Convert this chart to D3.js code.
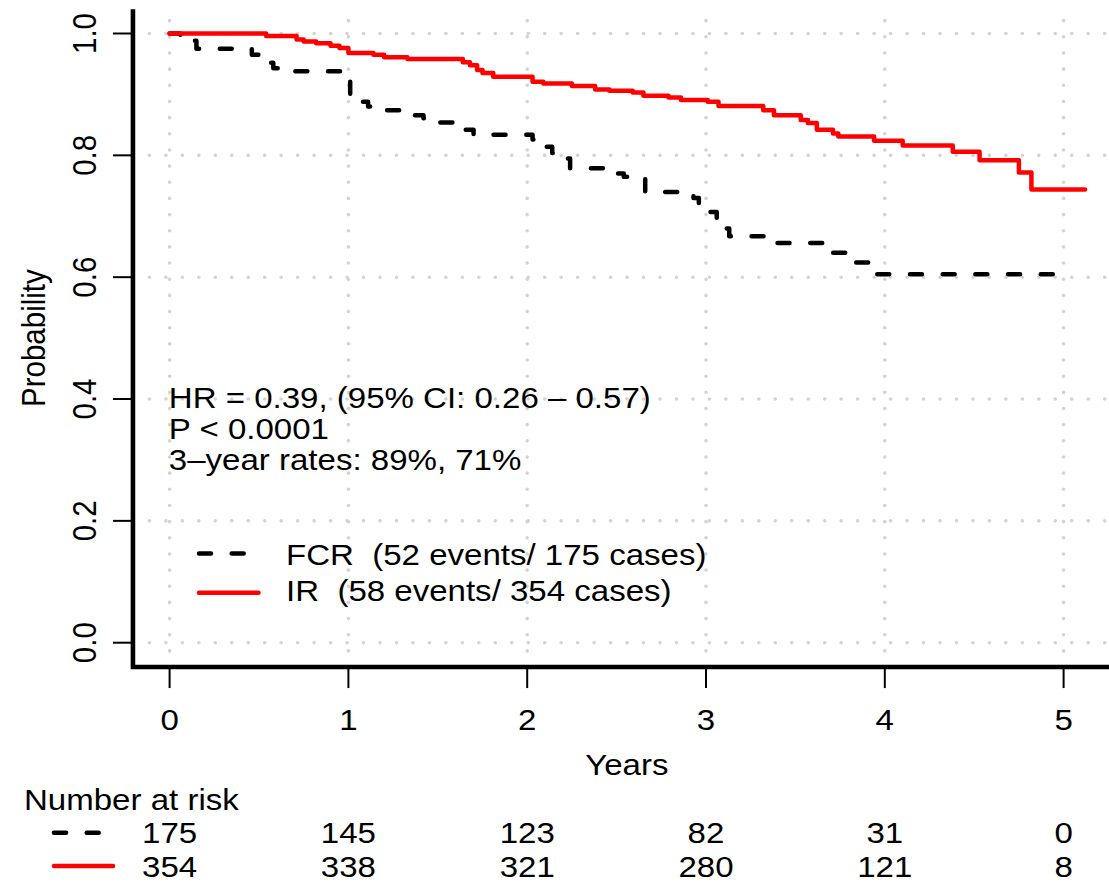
<!DOCTYPE html>
<html>
<head>
<meta charset="utf-8">
<script src="https://cdn.jsdelivr.net/npm/d3@7"></script>
<style>
  html, body { margin: 0; padding: 0; background: #fff; }
  svg { display: block; }
  text { font-family: "Liberation Sans", Arial, Helvetica, sans-serif; fill: #000; white-space: pre; }
</style>
</head>
<body>
<svg id="chart" width="1109" height="885"></svg>
<script>
// ---------------- data ----------------
const seriesNames = ["FCR", "IR"];
const legendLabels = ["FCR  (52 events/ 175 cases)", "IR  (58 events/ 354 cases)"];
const statsLines = ["HR = 0.39, (95% CI: 0.26 \u2013 0.57)", "P < 0.0001", "3\u2013year rates: 89%, 71%"];

const fcrTime = [0, 0.06, 0.10, 0.15, 0.46, 0.55, 0.58, 0.62, 1.01, 1.11, 1.17, 1.32, 1.42, 1.50, 1.60, 1.70,
                 2.03, 2.10, 2.14, 2.20, 2.24, 2.46, 2.54, 2.66, 2.93, 2.96, 3.02, 3.06, 3.10, 3.13, 3.34,
                 3.69, 3.81, 3.94, 4.97];
const fcrSurv = [1.000, 0.994, 0.988, 0.975, 0.965, 0.952, 0.943, 0.938, 0.888, 0.880, 0.874, 0.866, 0.861, 0.854, 0.842, 0.834,
                 0.826, 0.814, 0.804, 0.795, 0.779, 0.770, 0.765, 0.740, 0.730, 0.719, 0.707, 0.694, 0.680, 0.667, 0.656,
                 0.640, 0.624, 0.605, 0.605];

const irTime = [0, 0.54, 0.71, 0.75, 0.82, 0.90, 0.95, 1.00, 1.14, 1.20, 1.33, 1.64, 1.68, 1.72, 1.75, 1.81,
                2.03, 2.09, 2.25, 2.38, 2.46, 2.59, 2.65, 2.79, 2.86, 3.01, 3.07, 3.32, 3.38, 3.53, 3.57,
                3.62, 3.71, 3.74, 3.94, 4.10, 4.38, 4.53, 4.75, 4.82, 5.12];
const irSurv = [1.000, 0.996, 0.990, 0.987, 0.984, 0.980, 0.976, 0.968, 0.965, 0.961, 0.958, 0.953, 0.948, 0.940, 0.935, 0.929,
                0.921, 0.918, 0.914, 0.908, 0.906, 0.903, 0.898, 0.895, 0.891, 0.888, 0.881, 0.874, 0.866, 0.858, 0.853,
                0.842, 0.836, 0.831, 0.824, 0.816, 0.806, 0.792, 0.772, 0.744, 0.744];

const xTicks = [0, 1, 2, 3, 4, 5];
const yTicks = [0, 0.2, 0.4, 0.6, 0.8, 1.0];
const riskTimes = [0, 1, 2, 3, 4, 5];
const riskFCR = [175, 145, 123, 82, 31, 0];
const riskIR = [354, 338, 321, 280, 121, 8];

// ---------------- layout ----------------
const FS = 29.5, SX = 1.12;
const svg = d3.select("#chart");
svg.append("rect").attr("width", 1109).attr("height", 885).attr("fill", "#fff");

const x = d3.scaleLinear().domain([0, 5]).range([169.6, 169.6 + 5 * 178.8]);
const y = d3.scaleLinear().domain([0, 1]).range([642.7, 33.5]);
const pLeft = x(-0.205), pRight = x(5.32), pTop = y(1.04), pBottom = y(-0.04);

const colors = { FCR: "#000000", IR: "#ff0000" };
const dashes = { FCR: "12,20.7", IR: null };

function txt(g, s, px, py, anchor, rot) {
  return g.append("text")
    .attr("xml:space", "preserve")
    .attr("transform", `translate(${px},${py}) scale(${SX},1)` + (rot ? ` rotate(${rot})` : ""))
    .attr("font-size", FS)
    .attr("text-anchor", anchor || "start")
    .text(s);
}

// grid
const grid = svg.append("g").attr("stroke", "#d3d3d3").attr("stroke-width", 3.6)
  .attr("stroke-linecap", "round").attr("fill", "none");
yTicks.forEach(v => {
  grid.append("line").attr("x1", pLeft).attr("x2", pRight).attr("y1", y(v)).attr("y2", y(v))
    .attr("stroke-dasharray", "0.01,16.46");
});
xTicks.forEach(v => {
  grid.append("line").attr("x1", x(v)).attr("x2", x(v)).attr("y1", pBottom).attr("y2", pTop)
    .attr("stroke-dasharray", "0.01,16.15");
});

// curves
const line = d3.line().x(d => x(d[0])).y(d => y(d[1])).curve(d3.curveStepAfter);
const curves = [
  { name: "FCR", data: d3.zip(fcrTime, fcrSurv) },
  { name: "IR", data: d3.zip(irTime, irSurv) }
];
curves.forEach(c => {
  svg.append("path").attr("d", line(c.data)).attr("fill", "none")
    .attr("stroke", colors[c.name]).attr("stroke-width", 4.5)
    .attr("stroke-linecap", "round").attr("stroke-linejoin", "round")
    .attr("stroke-dasharray", dashes[c.name]);
});

// axes (bty = "l")
const axisG = svg.append("g");
axisG.append("path")
  .attr("d", `M${pLeft},${pTop} L${pLeft},${pBottom} L${1109 + 5},${pBottom}`)
  .attr("fill", "none").attr("stroke", "#000").attr("stroke-width", 4.6)
  .attr("stroke-linejoin", "miter");

yTicks.forEach(v => {
  axisG.append("line").attr("x1", pLeft - 20).attr("x2", pLeft).attr("y1", y(v)).attr("y2", y(v))
    .attr("stroke", "#000").attr("stroke-width", 2);
  txt(axisG, d3.format(".1f")(v), 95.5, y(v), "middle", -90);
});
xTicks.forEach(v => {
  axisG.append("line").attr("x1", x(v)).attr("x2", x(v)).attr("y1", pBottom).attr("y2", pBottom + 21)
    .attr("stroke", "#000").attr("stroke-width", 2);
  txt(axisG, d3.format("d")(v), x(v), 730, "middle");
});
txt(axisG, "Years", (pLeft + pRight) / 2, 775, "middle");
txt(axisG, "Probability", 45, (pTop + pBottom) / 2, "middle", -90);

// statistics text
statsLines.forEach((s, i) => txt(svg, s, x(0) - 0.8, 408 + i * 31));

// legend
const legY = [553.5, 592.7], legTextY = [565, 601];
seriesNames.forEach((n, i) => {
  svg.append("line").attr("x1", 199).attr("x2", 258.5).attr("y1", legY[i]).attr("y2", legY[i])
    .attr("stroke", colors[n]).attr("stroke-width", 4.5).attr("stroke-linecap", "round")
    .attr("stroke-dasharray", dashes[n]);
  txt(svg, legendLabels[i], 286, legTextY[i]);
});

// number at risk table
txt(svg, "Number at risk", 24, 810);
const riskRows = [{ name: "FCR", vals: riskFCR, lineY: 832.7, textY: 843 },
                  { name: "IR", vals: riskIR, lineY: 866, textY: 876.5 }];
riskRows.forEach(r => {
  svg.append("line").attr("x1", 54).attr("x2", 113).attr("y1", r.lineY).attr("y2", r.lineY)
    .attr("stroke", colors[r.name]).attr("stroke-width", 4.5).attr("stroke-linecap", "round")
    .attr("stroke-dasharray", dashes[r.name]);
  r.vals.forEach((v, i) => txt(svg, String(v), x(riskTimes[i]), r.textY, "middle"));
});
</script>
</body>
</html>
